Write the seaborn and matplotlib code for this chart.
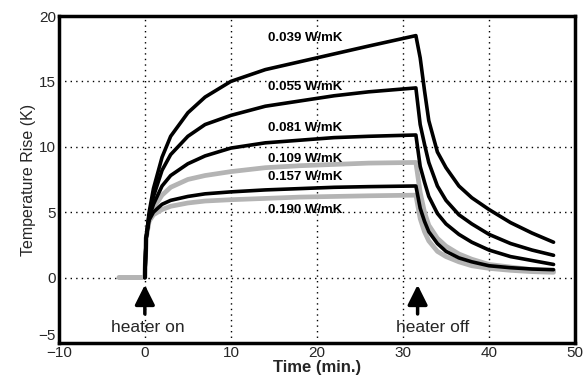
import numpy as np
import pandas as pd
import matplotlib
matplotlib.use("Agg")
import matplotlib.pyplot as plt
import seaborn as sns

# ---- data ----
time_min = [-3, 0, 0.15, 0.5, 1, 2, 3, 5, 7, 10, 14, 18, 22, 26, 31.5,
            32, 32.5, 33, 34, 35, 36.5, 38, 40, 42.5, 45, 47.5]
k_labels = ["0.039 W/mK", "0.055 W/mK", "0.081 W/mK",
            "0.109 W/mK", "0.157 W/mK", "0.190 W/mK"]
rise_039 = [np.nan, 0, 3.0, 5.0, 6.8, 9.2, 10.8, 12.6, 13.8, 15.0, 15.9, 16.5, 17.1, 17.7, 18.5,
            16.8, 14.3, 12.0, 9.6, 8.4, 7.0, 6.1, 5.2, 4.2, 3.4, 2.7]
rise_055 = [np.nan, 0, 3.0, 4.8, 6.2, 8.2, 9.4, 10.8, 11.7, 12.4, 13.1, 13.5, 13.9, 14.2, 14.5,
            11.7, 10.2, 8.8, 7.0, 5.9, 4.8, 4.1, 3.3, 2.6, 2.1, 1.7]
rise_081 = [np.nan, 0, 3.0, 4.6, 5.6, 7.0, 7.8, 8.7, 9.3, 9.9, 10.3, 10.5, 10.7, 10.8, 10.9,
            8.5, 7.3, 6.2, 4.9, 4.1, 3.3, 2.7, 2.1, 1.6, 1.3, 1.0]
rise_109 = [0, 0, 3.0, 4.5, 5.3, 6.3, 6.9, 7.5, 7.8, 8.1, 8.4, 8.55, 8.65, 8.75, 8.8,
            6.5, 5.0, 4.0, 3.0, 2.4, 1.8, 1.4, 1.0, 0.8, 0.6, 0.5]
rise_157 = [np.nan, 0, 3.0, 4.4, 5.0, 5.6, 5.9, 6.2, 6.4, 6.55, 6.7, 6.8, 6.9, 6.95, 7.0,
            5.3, 4.3, 3.5, 2.6, 2.0, 1.5, 1.2, 0.9, 0.75, 0.65, 0.6]
rise_190 = [0, 0, 3.0, 4.3, 4.8, 5.2, 5.45, 5.7, 5.85, 5.95, 6.05, 6.15, 6.2, 6.25, 6.3,
            4.5, 3.5, 2.8, 2.0, 1.6, 1.2, 0.9, 0.7, 0.55, 0.45, 0.4]
label_x = [14.3, 14.3, 14.3, 14.3, 14.3, 14.3]
label_y = [18.3, 14.6, 11.4, 9.1, 7.7, 5.2]
x_ticks = [-10, 0, 10, 20, 30, 40, 50]
y_ticks = [-5, 0, 5, 10, 15, 20]
heater_on_t = 0.0
heater_off_t = 31.7

series = [rise_039, rise_055, rise_081, rise_109, rise_157, rise_190]
frames = []
for lab, vals in zip(k_labels, series):
    frames.append(pd.DataFrame({"Time": time_min, "Rise": vals, "k": lab}))
df = pd.concat(frames, ignore_index=True).dropna()

sns.set_theme(style="white")
plt.rcParams['font.family'] = ['Liberation Sans', 'DejaVu Sans']

fig = plt.figure(figsize=(5.88, 3.81), dpi=100)
ax = fig.add_axes([0.100, 0.100, 0.878, 0.858])

grey = "#b4b4b4"
colors = {k_labels[0]: "black", k_labels[1]: "black", k_labels[2]: "black",
          k_labels[3]: grey, k_labels[4]: "black", k_labels[5]: grey}
widths = {k_labels[0]: 2.6, k_labels[1]: 2.6, k_labels[2]: 2.6,
          k_labels[3]: 3.4, k_labels[4]: 2.6, k_labels[5]: 3.4}
# draw grey first so black lines lie on top
order = [k_labels[3], k_labels[5], k_labels[0], k_labels[1], k_labels[2], k_labels[4]]
for lab in order:
    sub = df[df["k"] == lab]
    sns.lineplot(data=sub, x="Time", y="Rise", color=colors[lab],
                 linewidth=widths[lab], ax=ax, legend=False, sort=False,
                 estimator=None, zorder=3)

for lab, lx, ly in zip(k_labels, label_x, label_y):
    ax.text(lx, ly, lab, fontsize=9.5, fontweight="bold", ha="left", va="center",
            color="black", zorder=5)

ax.set_xlim(-10, 50)
ax.set_ylim(-5, 20)
ax.set_xticks(x_ticks)
ax.set_yticks(y_ticks)
ax.tick_params(axis="both", labelsize=11, length=0, pad=2)
ax.grid(True, linestyle=(0, (1, 3)), color="black", linewidth=1.0)
for s in ax.spines.values():
    s.set_linewidth(2.5)
    s.set_color("black")
# nudge the lowest y tick label up so it does not sit on the -10 label
ax.get_yticklabels()[0].set_va("bottom")

ax.set_xlabel("Time (min.)", fontsize=12, fontweight="bold", labelpad=0)
ax.set_ylabel("Temperature Rise (K)", fontsize=11.5, labelpad=2)

for t, txt, dx in [(heater_on_t, "heater on", 0.3), (heater_off_t, "heater off", 1.8)]:
    ax.annotate("", xy=(t, -0.35), xytext=(t, -3.0),
                arrowprops=dict(arrowstyle="-|>,head_width=0.5,head_length=1.0",
                                color="black", lw=2.5), zorder=6)
    ax.text(t + dx, -3.85, txt, fontsize=12.5, ha="center", va="center", zorder=6)

fig.savefig("out.png", dpi=100)
